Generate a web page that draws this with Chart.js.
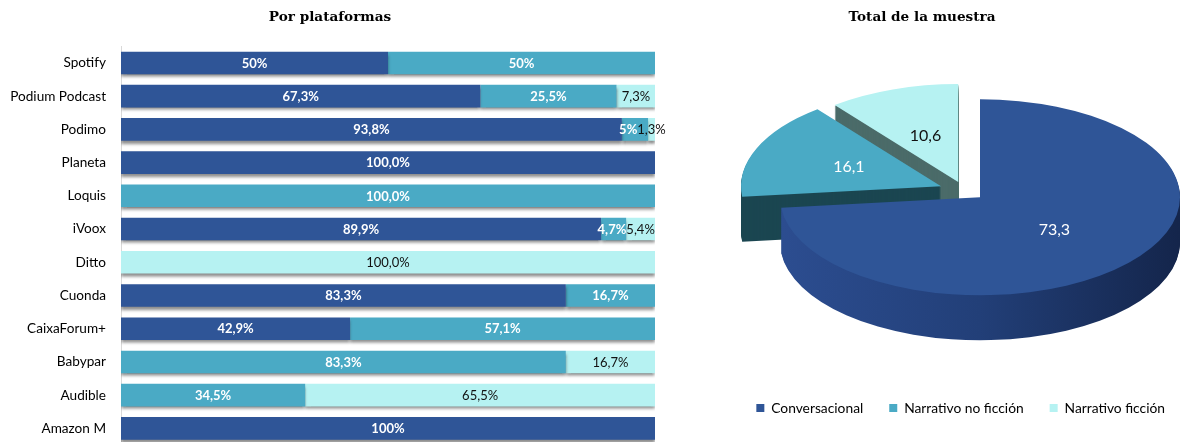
<!DOCTYPE html>
<html><head><meta charset="utf-8">
<script src="https://cdn.jsdelivr.net/npm/chart.js@4.4.1/dist/chart.umd.min.js"></script>
<style>
html,body{margin:0;padding:0;background:#fff;overflow:hidden;width:1182px;height:442px;}
#left{position:absolute;left:0;top:0;width:685px;height:445px;}
#right{position:absolute;left:653px;top:0;width:538px;height:442px;}
</style></head><body>
<div id="left"><canvas id="bar"></canvas></div>
<div id="right"><canvas id="pie"></canvas></div>
<script>
// ---------- DATA ----------
const platforms = ['Spotify','Podium Podcast','Podimo','Planeta','Loquis','iVoox','Ditto','Cuonda','CaixaForum+','Babypar','Audible','Amazon M'];
const conversacional = [50, 67.3, 93.8, 100, 0, 89.9, 0, 83.3, 42.9, 0, 0, 100];
const noFiccion      = [50, 25.5, 4.9, 0, 100, 4.7, 0, 16.7, 57.1, 83.3, 34.5, 0];
const ficcion        = [0, 7.3, 1.3, 0, 0, 5.4, 100, 0, 0, 16.7, 65.5, 0];
const conversacionalLabels = ['50%','67,3%','93,8%','100,0%','','89,9%','','83,3%','42,9%','','','100%'];
const noFiccionLabels      = ['50%','25,5%','5%','','100,0%','4,7%','','16,7%','57,1%','83,3%','34,5%',''];
const ficcionLabels        = ['','7,3%','1,3%','','','5,4%','100,0%','','','16,7%','65,5%',''];
const seriesNames = ['Conversacional','Narrativo no ficción','Narrativo ficción'];
const totalValues = [73.3, 16.1, 10.6];
const totalLabels = ['73,3','16,1','10,6'];

// ---------- STYLE ----------
const COLORS = ['#2F5597','#4AAAC5','#B6F2F2'];
const LABEL_COLORS = ['#FFFFFF','#FFFFFF','#111111'];
const PIE_SIDES = [['#2C4D90','#223F78','#14254B'], '#1B4651', '#4B6B69'];

const barLabelsPlugin = {
  id: 'barDeco',
  beforeDatasetsDraw(chart) {
    const c = chart.ctx;
    c.save();
    c.shadowColor = 'rgba(0,0,0,0.45)';
    c.shadowBlur = 3;
    c.shadowOffsetX = 0;
    c.shadowOffsetY = 3;
  },
  afterDatasetsDraw(chart) {
    const c = chart.ctx;
    c.restore();
    const labelSets = [conversacionalLabels, noFiccionLabels, ficcionLabels];
    c.save();
    c.textBaseline = 'middle';
    c.textAlign = 'center';
    for (let j = 0; j < platforms.length; j++) {
      const items = [];
      for (let i = 0; i < 3; i++) {
        const txt = labelSets[i][j];
        if (!txt) continue;
        const bar = chart.getDatasetMeta(i).data[j];
        const p = bar.getProps(['x','y','base'], true);
        c.font = (i < 2 ? 'bold ' : '') + '13px Lato';
        const w = c.measureText(txt).width;
        items.push({txt, i, x: (p.x + p.base) / 2, y: p.y, w});
      }
      for (let k = items.length - 2; k >= 0; k--) {
        const a = items[k], b = items[k + 1];
        const overlap = (a.x + a.w / 2) - (b.x - b.w / 2);
        if (overlap > 0) a.x -= overlap;
      }
      items.forEach(it => {
        c.font = (it.i < 2 ? 'bold ' : '') + '13px Lato';
        c.fillStyle = LABEL_COLORS[it.i];
        c.fillText(it.txt, it.x, it.y + 0.5);
      });
    }
    c.restore();
  }
};

function explodeVec(opts, i) {
  const d = opts.explode[i] || 0;
  const ang = (opts.explodeAngle[i] || 0) * Math.PI / 180;
  return [Math.cos(ang) * d, Math.sin(ang) * d];
}

const pie3dPlugin = {
  id: 'pie3d',
  beforeDatasetsDraw(chart, args, opts) {
    const ctx = chart.ctx;
    const arcs = chart.getDatasetMeta(0).data;
    const proto = Object.getPrototypeOf(arcs[0]);
    arcs.forEach((a, i) => {
      const [ex, ey] = explodeVec(opts, i);
      a.draw = function (c) {
        c.save();
        c.translate(ex, ey);
        proto.draw.call(this, c);
        c.restore();
      };
    });
    const cx = arcs[0].x, cy = arcs[0].y;
    ctx.save();
    ctx.translate(cx + opts.shiftX, cy + opts.shiftY);
    ctx.scale(1, opts.squash);
    ctx.translate(-cx, -cy);
    for (const i of [2, 1, 0]) {
      const a = arcs[i];
      const R = a.outerRadius;
      let fill = PIE_SIDES[i];
      if (Array.isArray(fill)) {
        const g = ctx.createLinearGradient(cx - R, 0, cx + R, 0);
        fill.forEach((col, k) => g.addColorStop(k / (fill.length - 1), col));
        fill = g;
      }
      const proxy = Object.create(a);
      proxy.options = Object.assign({}, a.options, {backgroundColor: fill, borderWidth: 0});
      for (let k = opts.depth; k >= 1; k--) {
        ctx.save();
        ctx.translate(0, k / opts.squash);
        proxy.draw(ctx);
        ctx.restore();
      }
    }
  },
  afterDatasetsDraw(chart, args, opts) {
    const ctx = chart.ctx;
    ctx.restore();
    const arcs = chart.getDatasetMeta(0).data;
    ctx.save();
    ctx.textAlign = 'center';
    ctx.textBaseline = 'middle';
    ctx.font = '16px Lato';
    arcs.forEach((a, i) => {
      const mid = (a.startAngle + a.endAngle) / 2;
      const rr = a.outerRadius * opts.labelRadius;
      const [ex, ey] = explodeVec(opts, i);
      const x = a.x + opts.shiftX + ex + Math.cos(mid) * rr;
      const y = a.y + opts.shiftY + (ey + Math.sin(mid) * rr) * opts.squash;
      ctx.fillStyle = LABEL_COLORS[i];
      ctx.fillText(totalLabels[i], x, y);
    });
    ctx.restore();
  }
};

function build() {
  new Chart(document.getElementById('bar'), {
    type: 'bar',
    data: {
      labels: platforms,
      datasets: [conversacional, noFiccion, ficcion].map((arr, i) => ({
        label: seriesNames[i],
        data: arr.map(v => v || null),
        backgroundColor: COLORS[i],
        borderWidth: 0,
        barPercentage: 0.68,
        categoryPercentage: 1
      }))
    },
    options: {
      indexAxis: 'y',
      responsive: true,
      maintainAspectRatio: false,
      animation: false,
      layout: {padding: {left: 5, right: 30, top: 0, bottom: 0}},
      plugins: {
        legend: {display: false},
        tooltip: {enabled: false},
        title: {display: true, text: 'Por plataformas', color: '#000',
          font: {family: 'DejaVu Serif', size: 13.6, weight: 'bold'},
          padding: {top: 9, bottom: 21}}
      },
      scales: {
        x: {stacked: true, min: 0, max: 100, display: false},
        y: {stacked: true, grid: {display: false},
          border: {display: true, color: '#D9D9D9', width: 1},
          ticks: {color: '#000', font: {family: 'Lato', size: 13.6}, padding: 7},
          afterFit(s) { s.width = 116; s.paddingTop = 0; s.paddingBottom = 0; }}
      }
    },
    plugins: [barLabelsPlugin]
  });

  new Chart(document.getElementById('pie'), {
    type: 'pie',
    data: {
      labels: seriesNames,
      datasets: [{
        data: totalValues,
        backgroundColor: COLORS,
        borderWidth: 0,
        radius: 200,
        clip: false
      }]
    },
    options: {
      responsive: true,
      maintainAspectRatio: false,
      animation: false,
      layout: {padding: {bottom: 17}},
      plugins: {
        title: {display: true, text: 'Total de la muestra', color: '#000',
          font: {family: 'DejaVu Serif', size: 13.6, weight: 'bold'},
          padding: {top: 9, bottom: 10}},
        legend: {position: 'bottom', align: 'end',
          labels: {boxWidth: 8, boxHeight: 8, padding: 26, color: '#000',
            font: {family: 'Lato', size: 13.8}}},
        tooltip: {enabled: false},
        pie3d: {shiftX: 58, shiftY: -8, squash: 0.49, depth: 45, labelRadius: 0.5,
          explode: [0, 45, 38], explodeAngle: [0, 210, 235]}
      }
    },
    plugins: [pie3dPlugin]
  });
}
Promise.all([document.fonts.load('13px Lato'), document.fonts.load('bold 13px Lato'), document.fonts.load('bold 13px "DejaVu Serif"')])
  .then(build, build);
</script>
</body></html>
